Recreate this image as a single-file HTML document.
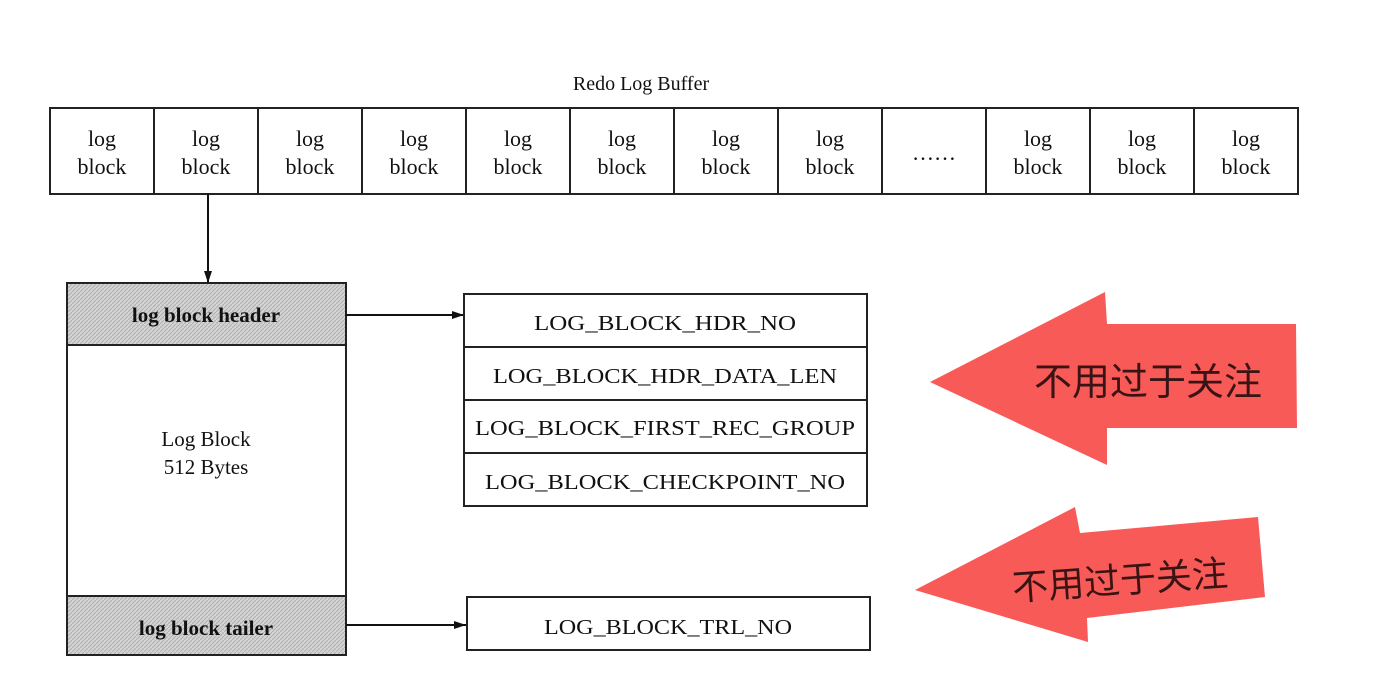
<!DOCTYPE html>
<html><head><meta charset="utf-8"><style>
html,body{margin:0;padding:0;background:#fff;width:1388px;height:690px;overflow:hidden}
svg{display:block}
text{font-family:"Liberation Serif",serif;fill:#111}
.z{font-family:"Liberation Sans","Noto Sans CJK SC",sans-serif;fill:#3a1414}
</style></head><body>
<svg width="1388" height="690" viewBox="0 0 1388 690" xmlns="http://www.w3.org/2000/svg">
<defs>
<pattern id="h" width="4" height="4" patternUnits="userSpaceOnUse">
<rect width="4" height="4" fill="#d4d4d4"/><path d="M0 4L4 0" stroke="#b0b0b0" stroke-width="1"/>
</pattern>
<marker id="a" markerWidth="12" markerHeight="8" refX="12" refY="4" orient="auto" markerUnits="userSpaceOnUse">
<path d="M0 0L12 4L0 8Z" fill="#111"/></marker>
</defs>
<text x="641" y="90" font-size="20" text-anchor="middle">Redo Log Buffer</text>
<g stroke="#222" stroke-width="2" fill="none">
<rect x="50" y="108" width="1248" height="86"/>
<path d="M154 108V194M258 108V194M362 108V194M466 108V194M570 108V194M674 108V194M778 108V194M882 108V194M986 108V194M1090 108V194M1194 108V194"/>
</g>
<g font-size="22" text-anchor="middle">
<text x="102" y="146">log</text><text x="102" y="174">block</text>
<text x="206" y="146">log</text><text x="206" y="174">block</text>
<text x="310" y="146">log</text><text x="310" y="174">block</text>
<text x="414" y="146">log</text><text x="414" y="174">block</text>
<text x="518" y="146">log</text><text x="518" y="174">block</text>
<text x="622" y="146">log</text><text x="622" y="174">block</text>
<text x="726" y="146">log</text><text x="726" y="174">block</text>
<text x="830" y="146">log</text><text x="830" y="174">block</text>
<text x="934" y="160">……</text>
<text x="1038" y="146">log</text><text x="1038" y="174">block</text>
<text x="1142" y="146">log</text><text x="1142" y="174">block</text>
<text x="1246" y="146">log</text><text x="1246" y="174">block</text>
</g>
<line x1="208" y1="194" x2="208" y2="283" stroke="#111" stroke-width="2" marker-end="url(#a)"/>
<rect x="67" y="283" width="279" height="62" fill="url(#h)" stroke="#222" stroke-width="2"/>
<rect x="67" y="345" width="279" height="251" fill="#fff" stroke="#222" stroke-width="2"/>
<rect x="67" y="596" width="279" height="59" fill="url(#h)" stroke="#222" stroke-width="2"/>
<text x="206" y="322" font-size="21" font-weight="bold" text-anchor="middle">log block header</text>
<text x="206" y="446" font-size="21" text-anchor="middle">Log Block</text>
<text x="206" y="474" font-size="21" text-anchor="middle">512 Bytes</text>
<text x="206" y="635" font-size="21" font-weight="bold" text-anchor="middle">log block tailer</text>
<line x1="346" y1="315" x2="464" y2="315" stroke="#111" stroke-width="2" marker-end="url(#a)"/>
<line x1="346" y1="625" x2="466" y2="625" stroke="#111" stroke-width="2" marker-end="url(#a)"/>
<g stroke="#222" stroke-width="2" fill="none">
<rect x="464" y="294" width="403" height="212"/>
<path d="M464 347H867M464 400H867M464 453H867"/>
<rect x="467" y="597" width="403" height="53"/>
</g>
<g font-size="21" text-anchor="middle">
<text x="665" y="330" textLength="262" lengthAdjust="spacingAndGlyphs">LOG_BLOCK_HDR_NO</text>
<text x="665" y="383" textLength="344" lengthAdjust="spacingAndGlyphs">LOG_BLOCK_HDR_DATA_LEN</text>
<text x="665" y="435" textLength="380" lengthAdjust="spacingAndGlyphs">LOG_BLOCK_FIRST_REC_GROUP</text>
<text x="665" y="489" textLength="360" lengthAdjust="spacingAndGlyphs">LOG_BLOCK_CHECKPOINT_NO</text>
<text x="668" y="634" textLength="248" lengthAdjust="spacingAndGlyphs">LOG_BLOCK_TRL_NO</text>
</g>
<polygon points="930,382 1105,292 1107,324 1296,324 1297,428 1107,428 1107,465" fill="#f85a57"/>
<text class="z" x="1148" y="395" font-size="38" text-anchor="middle">不用过于关注</text>
<polygon points="915,590 1075,507 1080,533 1258,517 1265,597 1087,618 1088,642" fill="#f85a57"/>
<text class="z" x="1120" y="593" font-size="36" text-anchor="middle" transform="rotate(-4 1120 580)">不用过于关注</text>
</svg>
</body></html>
